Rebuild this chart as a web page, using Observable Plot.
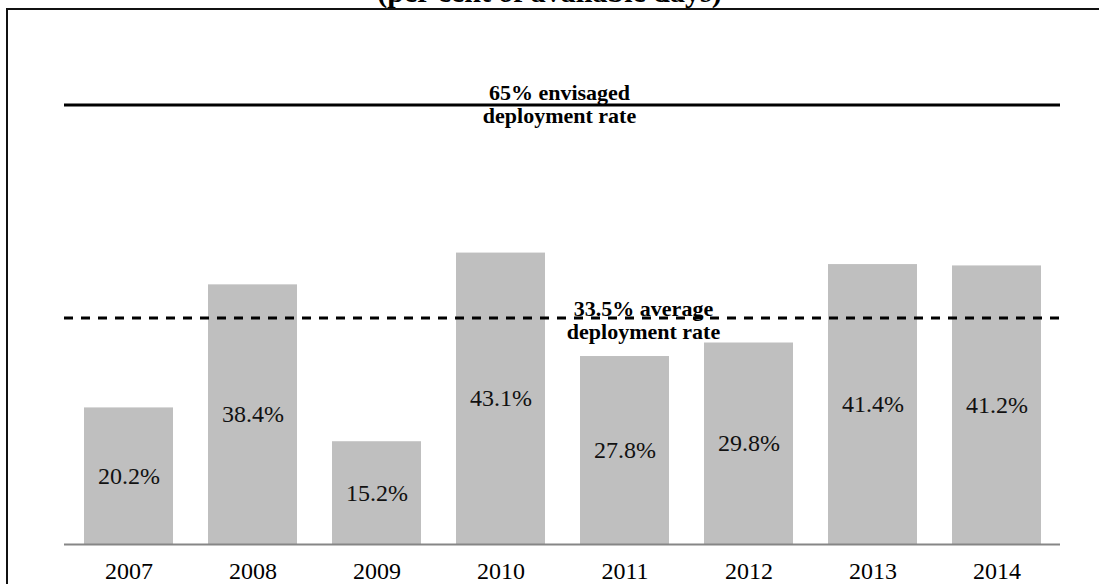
<!DOCTYPE html>
<html>
<head>
<meta charset="utf-8">
<script src="https://cdn.jsdelivr.net/npm/d3@7"></script>
<script src="https://cdn.jsdelivr.net/npm/@observablehq/plot@0.6"></script>
<style>
  html, body { margin: 0; padding: 0; background: #fff; overflow: hidden; }
  #chart { position: relative; width: 1099px; height: 584px; overflow: hidden; }
  #chart svg { display: block; position: absolute; left: 0; top: 0; }
  #border { position: absolute; left: 6px; top: 8px; width: 1200px; height: 700px; border-left: 2px solid #111; border-top: 2px solid #111; pointer-events: none; z-index: 1; }
</style>
</head>
<body>
<div id="chart"><div id="border"></div></div>
<script>
const title = "(per cent of available days)";
const years = ["2007", "2008", "2009", "2010", "2011", "2012", "2013", "2014"];
const rates = [20.2, 38.4, 15.2, 43.1, 27.8, 29.8, 41.4, 41.2];
const envisagedRate = 65;
const envisagedLabel = "65% envisaged\ndeployment rate";
const averageRate = 33.5;
const averageLabel = "33.5% average\ndeployment rate";

const data = years.map((y, i) => ({year: y, rate: rates[i]}));

const chart = Plot.plot({
  width: 1099,
  height: 584,
  marginLeft: 64,
  marginRight: 39,
  marginTop: 104.5,
  marginBottom: 40,
  style: {fontFamily: "'Liberation Serif', 'Times New Roman', serif", fontSize: "24px", color: "#000", background: "#fff"},
  x: {domain: years, paddingInner: 0.285, paddingOuter: 0.145, label: null, tickSize: 0, tickPadding: 17},
  y: {domain: [0, 65], axis: null},
  marks: [
    Plot.barY(data, {x: "year", y: "rate", fill: "#bfbfbf"}),
    Plot.ruleY([0], {stroke: "#868686", strokeWidth: 2}),
    Plot.ruleY([envisagedRate], {stroke: "#000", strokeWidth: 3}),
    Plot.ruleY([averageRate], {stroke: "#000", strokeWidth: 3, strokeDasharray: "9,8"}),
    Plot.text(data, {x: "year", y: d => d.rate / 2, text: d => d.rate.toFixed(1) + "%", fontSize: 24, fill: "#111"}),
    Plot.text([envisagedRate], {y: d => d, text: () => envisagedLabel, dx: -3, dy: -1, fontSize: 22, fontWeight: "bold", lineHeight: 1.03, fill: "#000"}),
    Plot.text([averageRate], {y: d => d, text: () => averageLabel, dx: 81, dy: 2, fontSize: 22, fontWeight: "bold", lineHeight: 1.06, fill: "#000"}),
    Plot.text([title], {frameAnchor: "top", lineAnchor: "bottom", dx: -13, dy: -103, fontSize: 30, fontWeight: "bold", fill: "#000"})
  ]
});
document.getElementById("chart").appendChild(chart);
</script>
</body>
</html>
